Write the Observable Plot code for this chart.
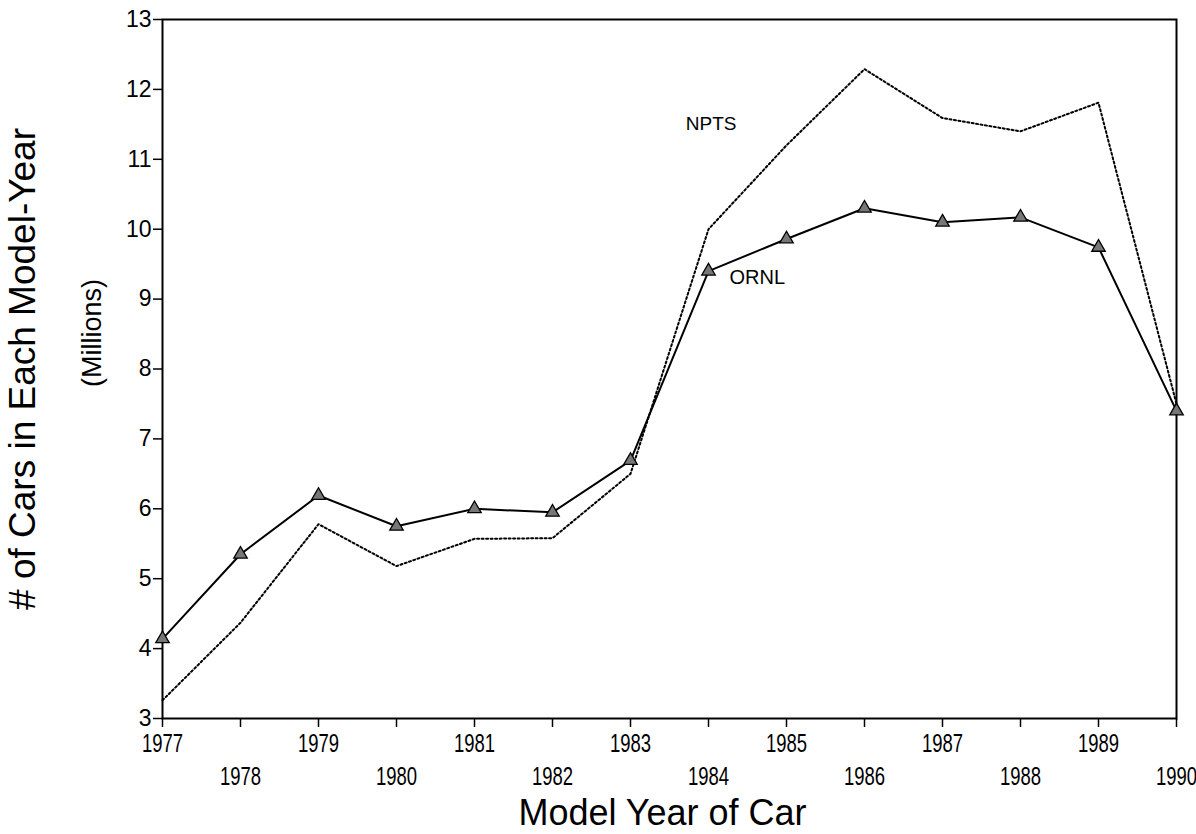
<!DOCTYPE html>
<html>
<head>
<meta charset="utf-8">
<script src="https://cdn.jsdelivr.net/npm/d3@7"></script>
<script src="https://cdn.jsdelivr.net/npm/@observablehq/plot@0.6"></script>
<style>
  html, body { margin: 0; padding: 0; background: #fff; }
  #chart svg { display: block; }
</style>
</head>
<body>
<div id="chart"></div>
<script>
// Model years
const years = [1977, 1978, 1979, 1980, 1981, 1982, 1983, 1984, 1985, 1986, 1987, 1988, 1989, 1990];
// ORNL series (millions of cars)
const ornl = [4.14, 5.35, 6.19, 5.75, 6.0, 5.95, 6.69, 9.4, 9.86, 10.3, 10.1, 10.17, 9.74, 7.4];
// NPTS series (millions of cars)
const npts = [3.26, 4.37, 5.78, 5.18, 5.57, 5.58, 6.5, 10.0, 11.2, 12.29, 11.59, 11.4, 11.81, 7.5];
// Axis ticks
const yTicks = [3, 4, 5, 6, 7, 8, 9, 10, 11, 12, 13];
const oddYears = years.filter(y => y % 2 === 1);
const evenYears = years.filter(y => y % 2 === 0);
// Text
const yTitle = "# of Cars in Each Model-Year";
const yUnits = "(Millions)";
const xTitle = "Model Year of Car";

const ornlData = years.map((y, i) => ({year: y, value: ornl[i]}));
const nptsData = years.map((y, i) => ({year: y, value: npts[i]}));

const font = "'Liberation Sans', Arial, Helvetica, sans-serif";

const chart = Plot.plot({
  width: 1196,
  height: 834,
  marginLeft: 162,
  marginRight: 20,
  marginTop: 19,
  marginBottom: 116,
  style: {fontFamily: font, fontSize: "20px", color: "#000", background: "#fff"},
  x: {domain: [1977, 1990], label: null},
  y: {domain: [3, 13], label: null},
  marks: [
    Plot.frame({stroke: "#000", strokeWidth: 2}),
    Plot.axisY({ticks: yTicks, tickSize: 9, tickPadding: 2, fontSize: 23, label: null, tickFormat: d => String(d), strokeWidth: 1.5}),
    Plot.axisX({ticks: oddYears, tickSize: 9, tickPadding: 7, fontSize: 18.5, label: null, tickFormat: d => String(d), strokeWidth: 1.5}),
    Plot.axisX({ticks: evenYears, tickSize: 9, tickPadding: 40, fontSize: 18.5, label: null, tickFormat: d => String(d), strokeWidth: 1.5}),
    Plot.line(nptsData, {x: "year", y: "value", stroke: "#000", strokeWidth: 2, strokeDasharray: "2,2.5"}),
    Plot.line(ornlData, {x: "year", y: "value", stroke: "#000", strokeWidth: 2}),
    Plot.dot(ornlData, {x: "year", y: "value", symbol: "triangle", r: 5, stroke: "#000", fill: "#777", strokeWidth: 1.3}),
    // series labels anchored to data points
    Plot.text(nptsData.filter(d => d.year === 1985), {x: "year", y: "value", text: () => "NPTS", textAnchor: "end", dx: -50, dy: -21, fontSize: 19}),
    Plot.text(ornlData.filter(d => d.year === 1984), {x: "year", y: "value", text: () => "ORNL", textAnchor: "start", dx: 21, dy: 6, fontSize: 20}),
    // axis titles
    Plot.text([yTitle], {text: d => d, frameAnchor: "left", textAnchor: "middle", rotate: -90, dx: -139, fontSize: 37, lineAnchor: "middle"}),
    Plot.text([yUnits], {text: d => d, frameAnchor: "left", textAnchor: "middle", rotate: -90, dx: -70, dy: -36, fontSize: 27, lineAnchor: "middle"}),
    Plot.text([xTitle], {text: d => d, frameAnchor: "bottom", dx: -7, dy: 95, fontSize: 36, lineAnchor: "middle"})
  ]
});
// the year labels in the reference are drawn in a tall, narrow face: stretch them vertically
chart.querySelectorAll('g[aria-label="x-axis tick label"] text').forEach(t => {
  const tr = t.getAttribute("transform") || "";
  t.setAttribute("transform", tr + " scale(1,1.35)");
});
document.getElementById("chart").appendChild(chart);
</script>
</body>
</html>
